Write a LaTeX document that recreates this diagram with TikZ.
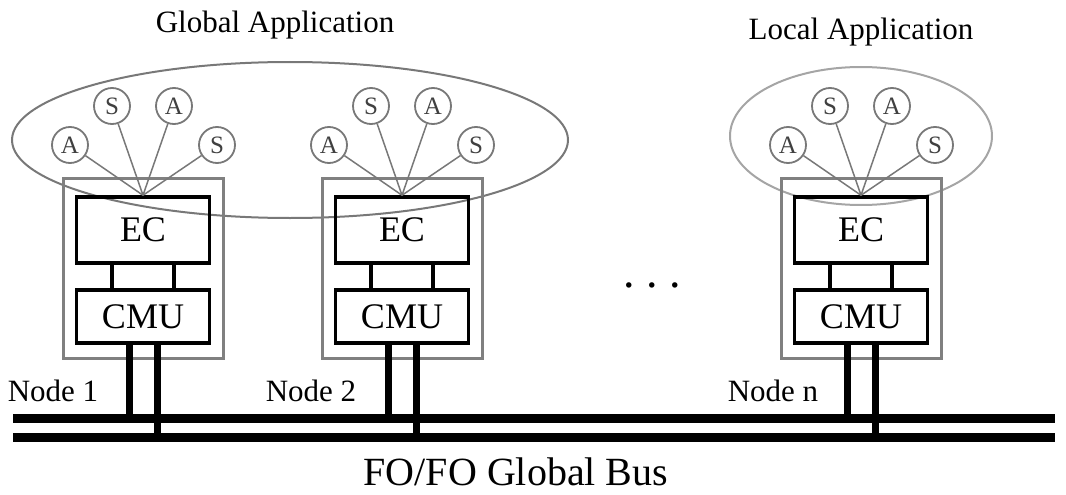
\documentclass[tikz,border=0pt]{standalone}
\usepackage{fontspec}
\setmainfont{Liberation Serif}
\definecolor{boxgray}{RGB}{128,128,128}
\definecolor{circgray}{RGB}{120,120,120}
\definecolor{locgray}{RGB}{165,165,165}
\begin{document}
\begin{tikzpicture}[x=1pt,y=-1pt,
  outerbox/.style={draw=boxgray, line width=3pt, minimum width=160pt, minimum height=180pt, inner sep=0pt},
  unitbox/.style={draw=black, line width=3.5pt, minimum width=133pt, inner sep=0pt, font=\fontsize{36}{36}\selectfont},
  sens/.style={circle, draw=circgray, line width=1.8pt, minimum size=36pt, inner sep=0pt, font=\fontsize{25}{25}\selectfont, text=black!75},
  link/.style={draw=circgray, line width=1.5pt},
  conn/.style={line width=3.5pt},
  wire/.style={line width=7pt},
  bus/.style={line width=9pt},
  lbl/.style={font=\fontsize{31}{31}\selectfont, inner sep=0pt}]
\useasboundingbox (0,0) rectangle (1066,495);
% application ellipses
\draw[draw=circgray, line width=2pt] (290,140) ellipse [x radius=278, y radius=78];
\draw[draw=locgray, line width=2pt] (861,136) ellipse [x radius=131, y radius=69];
\node[lbl, anchor=base] (glob) at (275,33) {Global Application};
\node[lbl, anchor=base] (loc) at (861,40) {Local Application};
% bus
\coordinate (busAL) at (13,418);
\coordinate (busAR) at (1055,418);
\coordinate (busBL) at (13,437);
\coordinate (busBR) at (1055,437);
\draw[bus] (busAL) -- (busAR);
\draw[bus] (busBL) -- (busBR);
\node[font=\fontsize{40}{40}\selectfont, anchor=base, inner sep=0pt] (buslbl) at (516,485) {FO/FO Global Bus};
% nodes
\foreach \i/\cx/\lx/\lt in {1/143/53/Node 1, 2/402/311/Node 2, n/861/773/Node n} {
  \node[outerbox] (box\i) at (\cx,268) {};
  \node[unitbox, minimum height=66pt] (ec\i) at (\cx,230) {EC};
  \node[unitbox, minimum height=53pt] (cmu\i) at (\cx,316.5) {CMU};
  \draw[conn] ([xshift=-31pt]ec\i.south) -- ([xshift=-31pt]cmu\i.north);
  \draw[conn] ([xshift=31pt]ec\i.south) -- ([xshift=31pt]cmu\i.north);
  \coordinate (tapA\i) at ({\cx-14},418);
  \coordinate (tapB\i) at ({\cx+14},437);
  \draw[wire] ([xshift=-14pt]cmu\i.south) -- (tapA\i);
  \draw[wire] ([xshift=14pt]cmu\i.south) -- (tapB\i);
  \node[sens] (sa\i) at ({\cx-73},145) {A};
  \node[sens] (sb\i) at ({\cx-31},106) {S};
  \node[sens] (sc\i) at ({\cx+31},106) {A};
  \node[sens] (sd\i) at ({\cx+74},145) {S};
  \foreach \s in {sa,sb,sc,sd} {\draw[link] (\s\i) -- (ec\i.north);}
  \node[lbl, anchor=base] (lab\i) at (\lx,401) {\lt};
}
\node[font=\fontsize{46}{46}\selectfont, anchor=base, inner sep=0pt] (dots) at (652,287) {.\ .\ .};
\end{tikzpicture}
\end{document}
